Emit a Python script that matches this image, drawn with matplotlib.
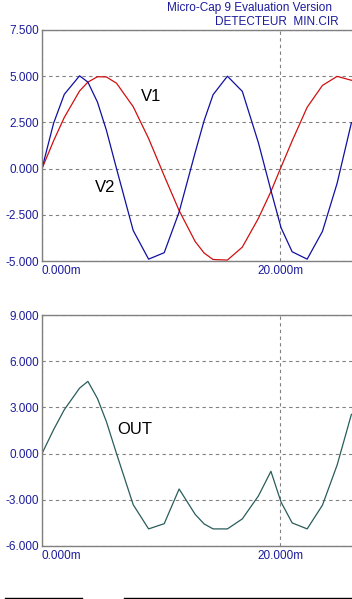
import matplotlib
matplotlib.use("Agg")
import matplotlib.pyplot as plt
from matplotlib.lines import Line2D

plt.rcParams['font.family'] = ['Liberation Sans', 'DejaVu Sans']

# time samples (ms)
t_ms = [0, 0.97, 1.87, 3.15, 3.85, 4.65, 5.4, 6.25, 7.65, 8.94, 10.25, 11.5,
        12.85, 13.6, 14.35, 15.55, 16.8, 18.15, 19.2, 20.05, 20.98, 22.24,
        23.52, 24.75, 25.95]
v1 = [0, 1.5, 2.77, 4.2, 4.68, 4.97, 4.96, 4.62, 3.35, 1.63, -0.39, -2.27,
      -3.95, -4.57, -4.92, -4.95, -4.25, -2.69, -1.24, 0.08, 1.5, 3.32,
      4.5, 4.99, 4.78]
v2 = [0, 2.45, 4.02, 5.02, 4.68, 3.6, 2.08, 0, -3.35, -4.9, -4.55, -2.35,
      0.88, 2.6, 4.0, 5.0, 4.18, 1.4, -1.18, -3.2, -4.5, -4.9,
      -3.4, -0.8, 2.48]
out = [0, 1.55, 2.85, 4.25, 4.69, 3.58, 2.08, 0, -3.32, -4.89, -4.55, -2.3,
       -3.95, -4.57, -4.89, -4.89, -4.24, -2.75, -1.15, -3.15, -4.5, -4.89,
       -3.35, -0.75, 2.55]

top_yticks = [7.5, 5.0, 2.5, 0.0, -2.5, -5.0]
bot_yticks = [9.0, 6.0, 3.0, 0.0, -3.0, -6.0]
x_ticks = [0, 20]
x_ticklabels = ["0.000m", "20.000m"]
title1 = "Micro-Cap 9 Evaluation Version"
title2 = "DETECTEUR  MIN.CIR"

W, H = 352, 599
fig = plt.figure(figsize=(W / 100, H / 100), dpi=100)
fig.patch.set_facecolor('white')

LABC = '#1c1c9c'
GRID = '#808080'


def make_ax(top_px, bot_px, ylim, yticks):
    left = 42 / W
    ax = fig.add_axes([left, 1 - bot_px / H, 1.0 - left, (bot_px - top_px) / H])
    ax.set_xlim(0, 26)
    ax.set_ylim(*ylim)
    ax.set_yticks(yticks)
    ax.set_yticklabels([f"{v:.3f}" for v in yticks])
    ax.set_xticks(x_ticks)
    ax.set_xticklabels(x_ticklabels)
    labs = ax.get_xticklabels()
    labs[0].set_horizontalalignment('left')
    labs[1].set_horizontalalignment('center')
    ax.tick_params(axis='both', length=0, labelsize=8.5, labelcolor=LABC)
    ax.tick_params(axis='y', pad=2.2)
    ax.tick_params(axis='x', pad=3)
    for s in ['left', 'top', 'bottom']:
        ax.spines[s].set_color(GRID)
        ax.spines[s].set_linewidth(1.0)
    ax.spines['right'].set_visible(False)
    ax.grid(True, color=GRID, linestyle=(0, (3, 3)), linewidth=0.8)
    ax.set_axisbelow(True)
    return ax


ax1 = make_ax(30, 261, (-5, 7.5), top_yticks)
ax1.plot(t_ms, v1, color='#d01010', lw=0.9)
ax1.plot(t_ms, v2, color='#1010a0', lw=0.9)
ax1.text(9.16, 3.92, "V1", fontsize=12, color='black', ha='center', va='center')
ax1.text(5.3, -1.01, "V2", fontsize=12, color='black', ha='center', va='center')

ax2 = make_ax(315, 546, (-6, 9), bot_yticks)
ax2.plot(t_ms, out, color='#2a5c5c', lw=0.9)
ax2.text(7.74, 1.58, "OUT", fontsize=12, color='black', ha='center', va='center')

fig.text(332 / W, 1 - 8 / H, title1, ha='right', va='center', fontsize=8.5, color=LABC)
fig.text(339 / W, 1 - 22 / H, title2, ha='right', va='center', fontsize=8.5, color=LABC)

fig.add_artist(Line2D([5 / W, 82 / W], [0.8 / H, 0.8 / H], color='black', lw=1.0))
fig.add_artist(Line2D([124 / W, 1.0], [0.8 / H, 0.8 / H], color='black', lw=1.0))

fig.savefig("out.png", dpi=100)
